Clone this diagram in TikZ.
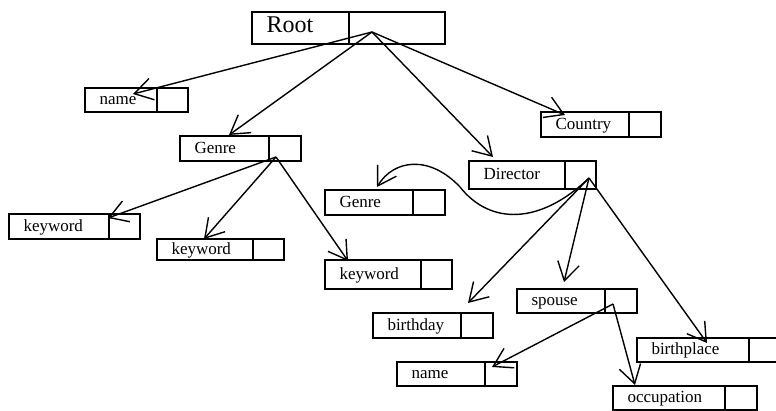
\documentclass[tikz,border=0pt]{standalone}
\usepackage{fontspec}
\setmainfont{Liberation Serif}
\usetikzlibrary{positioning,arrows.meta}
\newcommand{\cellpair}[7]{%
	\node[lbl, text width=#4pt, minimum height=#5pt] (#1) at (#2,#3) {#7};
	\node[ptr, minimum width=#6pt, minimum height=#5pt, right=0pt of #1] (#1p) {};}

\begin{document}
\begin{tikzpicture}[x=1pt,y=-1pt]
	\tikzset{lbl/.style={draw, line width=1.6pt, anchor=north west, inner sep=0pt, inner xsep=14.5pt, outer sep=0pt, align=left, text height=12pt, text depth=3pt, font=\fontsize{17}{19}\selectfont}}
	\tikzset{ptr/.style={draw, line width=1.6pt, inner sep=0pt, outer sep=0pt}}
	\tikzset{link/.style={line width=1.4pt, -{Straight Barb[length=18pt,width=22pt]}}}
	\useasboundingbox (0,0) rectangle (776,410);
	\cellpair{root}{252}{12}{68}{32}{96}{\fontsize{24}{26}\selectfont Root}
	\cellpair{name}{85}{88}{43}{24}{31}{name}
	\cellpair{genreA}{180}{136}{60}{25}{32}{Genre}
	\cellpair{country}{541}{112}{59}{25}{32}{Country}
	\cellpair{director}{469}{161}{67}{28}{31}{Director}
	\cellpair{genreB}{325}{190}{59}{25}{32}{Genre}
	\cellpair{kwA}{9}{214}{71}{25}{31}{keyword}
	\cellpair{kwB}{157}{239}{67}{21}{31}{keyword}
	\cellpair{kwC}{325}{260}{67}{29}{31}{keyword}
	\cellpair{birthday}{373}{313}{59}{25}{32}{birthday}
	\cellpair{spouse}{517}{289}{59}{24}{32}{spouse}
	\cellpair{nameB}{397}{362}{59}{24}{32}{name}
	\cellpair{birthplace}{637}{338}{83}{24}{32}{birthplace}
	\cellpair{occupation}{613}{386}{83}{24}{32}{occupation}
	\coordinate (rootO) at ([shift={(23,4)}]rootp.west);
	\coordinate (genreAO) at ([shift={(7,8.5)}]genreAp.west);
	\coordinate (directorO) at ([shift={(24,3)}]directorp.west);
	\coordinate (spouseO) at ([shift={(8,3)}]spousep.west);
	\draw[link] (rootO) -- ([shift={(48,6)}]name.north west);
	\draw[link] (rootO) -- ([shift={(49,-1)}]genreA.north west);
	\draw[link] (rootO) -- ([shift={(24,-4)}]director.north west);
	\draw[link] (rootO) -- ([shift={(24,3)}]country.north west);
	\draw[link] (genreAO) -- ([shift={(99,4)}]kwA.north west);
	\draw[link] (genreAO) -- ([shift={(47,0)}]kwB.north west);
	\draw[link] (genreAO) -- ([shift={(23,1)}]kwC.north west);
	\draw[link] (directorO) .. controls +(-49,47) and +(30,38) .. ++(-129,9)
		.. controls +(-30,-32) and +(17,-28) .. ([shift={(52,-3)}]genreB.north west);
	\draw[link] (directorO) -- ([shift={(95,-10)}]birthday.north west);
	\draw[link] (directorO) -- ([shift={(47,-7)}]spouse.north west);
	\draw[link] (directorO) -- ([shift={(70,5)}]birthplace.north west);
	\draw[link] (spouseO) -- ([shift={(95,5)}]nameB.north west);
	\draw[link] (spouseO) -- ([shift={(22,-1)}]occupation.north west);
\end{tikzpicture}
\end{document}
